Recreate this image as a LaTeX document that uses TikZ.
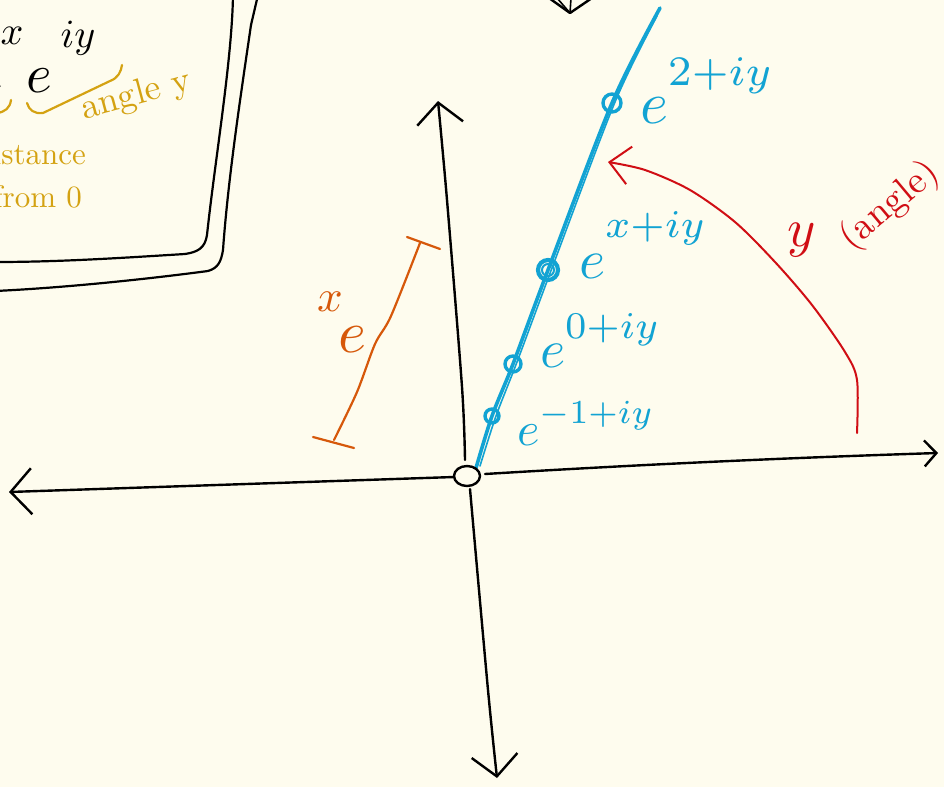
\documentclass[tikz,border=0pt]{standalone}
\usetikzlibrary{arrows.meta}
\definecolor{paper}{RGB}{254,252,238}
\definecolor{bl}{RGB}{18,163,211}
\definecolor{rd}{RGB}{208,14,20}
\definecolor{org}{RGB}{214,88,10}
\definecolor{ylw}{RGB}{212,162,18}
\begin{document}
\begin{tikzpicture}[x=1pt,y=-1pt,
  ink/.style={draw=black, line width=2.4pt, line cap=round, line join=round},
  bigbarb/.style={-{Straight Barb[length=21pt,width=46pt,line width=2.4pt]}},
  smallbarb/.style={-{Straight Barb[length=12pt,width=26pt,line width=2.4pt]}},
  redbarb/.style={-{Straight Barb[length=20pt,width=38pt,line width=2pt]}},
  blueline/.style={draw=bl, line width=3.6pt, line cap=round, line join=round},
  bdot/.style={draw=bl, line width=3.4pt},
  lab/.style={inner sep=0pt, outer sep=0pt}]
\fill[paper] (0,0) rectangle (944,787);
\useasboundingbox (0,0) rectangle (944,787);
\clip (0,0) rectangle (944,787);

% ---------- top-left box (cropped) ----------
\draw[ink, line width=2.2pt] (233,-5) .. controls (232,60) and (215,160) .. (207,235)
  .. controls (205,248) and (198,252) .. (185,254)
  .. controls (120,258) and (60,262) .. (-5,262);
\draw[ink, line width=2.2pt] (258,-5) -- (251,25) .. controls (240,100) and (228,180) .. (223,250)
  .. controls (221,262) and (218,268) .. (208,271)
  .. controls (140,280) and (60,288) .. (-5,291);

\node[lab, anchor=base east, scale=5.5] (e1) at (3,92) {$e$};
\node[lab, scale=4] (sx) at (12,36) {$x$};
\node[lab, anchor=base west, scale=5.5] (e2) at (27,92) {$e$};
\node[lab, scale=4] (siy) at (78,38) {$iy$};

\draw[ylw, line width=2.2pt, line cap=round] (-3,113) .. controls (5,112) and (10,108) .. (11,100);
\draw[ylw, line width=2.2pt, line cap=round] (27,103) .. controls (29,110) and (34,114) .. (43,113)
  -- (110,81) .. controls (118,78) and (121,72) .. (122,65);
\node[lab, text=ylw, anchor=base west, scale=3.6, rotate=15] (ang) at (84,119) {angle y};
\node[lab, text=ylw, anchor=base east, scale=3.1] (dist) at (86,164) {distance};
\node[lab, text=ylw, anchor=base east, scale=3.1] (from) at (82,207) {from 0};

% ---------- top cut-off arrowhead ----------
\coordinate (H) at (570,13);
\draw[ink] (549,-2) -- (H) -- (592,-2);
\draw[ink, line width=1.6pt] (557,-2) -- (H);
\draw[ink, line width=1.6pt] (571,-2) -- (H);

% ---------- axes ----------
\coordinate (O) at (467,476);
\coordinate (L) at (9,492);
\coordinate (R) at (938,453);
\coordinate (U) at (438,101);
\coordinate (D) at (497,778);
\draw[ink, bigbarb] (454,477) -- (L);
\draw[ink, smallbarb] (485,474) .. controls (600,467) and (750,459) .. (R);
\draw[ink, bigbarb] plot[smooth] coordinates {(465,460) (462,387) (447,200) (U)};
\draw[ink, bigbarb] plot[smooth] coordinates {(470,489) (488,690) (D)};

% ---------- blue ray ----------
\coordinate (P1) at (492,416);
\coordinate (P0) at (513,364);
\coordinate (Px) at (548,270);
\coordinate (P2) at (612,103);
\coordinate (T) at (660,8);
\draw[blueline] plot[smooth] coordinates {(476,468) (P1) (P0) (Px) (P2) (T)};
\draw[bl, line width=1.6pt, line cap=round] plot[smooth] coordinates {(480,466) (496,416) (517,362) (552,268) (615,102) (657,16)};
\draw[bdot] (P1) circle (7);
\draw[bdot] (P0) circle (8);
\draw[bdot, line width=4.2pt] (Px) circle (10);
\draw[bl, line width=2pt] (Px) circle (6);
\draw[bdot] (P2) circle (9);

\node[lab, text=bl, anchor=base west, scale=4.8] (l1) at (517,445) {$e^{\raisebox{0.8pt}{$\scriptstyle -1+iy$}}$};
\node[lab, text=bl, anchor=base west, scale=5.4] (l0) at (540,367) {$e^{\raisebox{1.6pt}{$\scriptstyle 0+iy$}}$};
\node[lab, text=bl, anchor=base west, scale=5.6] (lx) at (579,278) {$e^{\raisebox{3.6pt}{$\scriptstyle x+iy$}}$};
\node[lab, text=bl, anchor=base west, scale=6] (l2) at (640,123) {$e^{\raisebox{2.7pt}{$\scriptstyle 2+iy$}}$};

% ---------- origin ----------
\draw[ink, fill=paper] (O) ellipse (13 and 10);

% ---------- orange e^x bracket ----------
\coordinate (Ba) at (334,440);
\coordinate (Bb) at (420,243);
\draw[org, line width=2.2pt, line cap=round, line join=round]
  plot[smooth] coordinates {(Ba) (357,392) (375,344) (391,316) (Bb)};
\draw[org, line width=2.2pt, line cap=round] (313,437) -- (354,448);
\draw[org, line width=2.2pt, line cap=round] (407,237) -- (440,249);
\node[lab, text=org, scale=6] (oe) at (352,340) {$e$};
\node[lab, text=org, scale=4.5] (ox) at (330,302) {$x$};

% ---------- red angle arrow ----------
\coordinate (A0) at (857,433);
\coordinate (A1) at (608,162);
\draw[rd, line width=2pt, line cap=round, line join=round, redbarb]
  plot[smooth] coordinates {(A0) (857,380) (845,352) (812,305) (775,262) (735,222) (690,190) (645,170) (A1)};
\node[lab, text=rd, scale=5.4] (ry) at (802,240) {$y$};
\node[lab, text=rd, scale=3.8, rotate=40] (rang) at (890,206) {(angle)};
\end{tikzpicture}
\end{document}
